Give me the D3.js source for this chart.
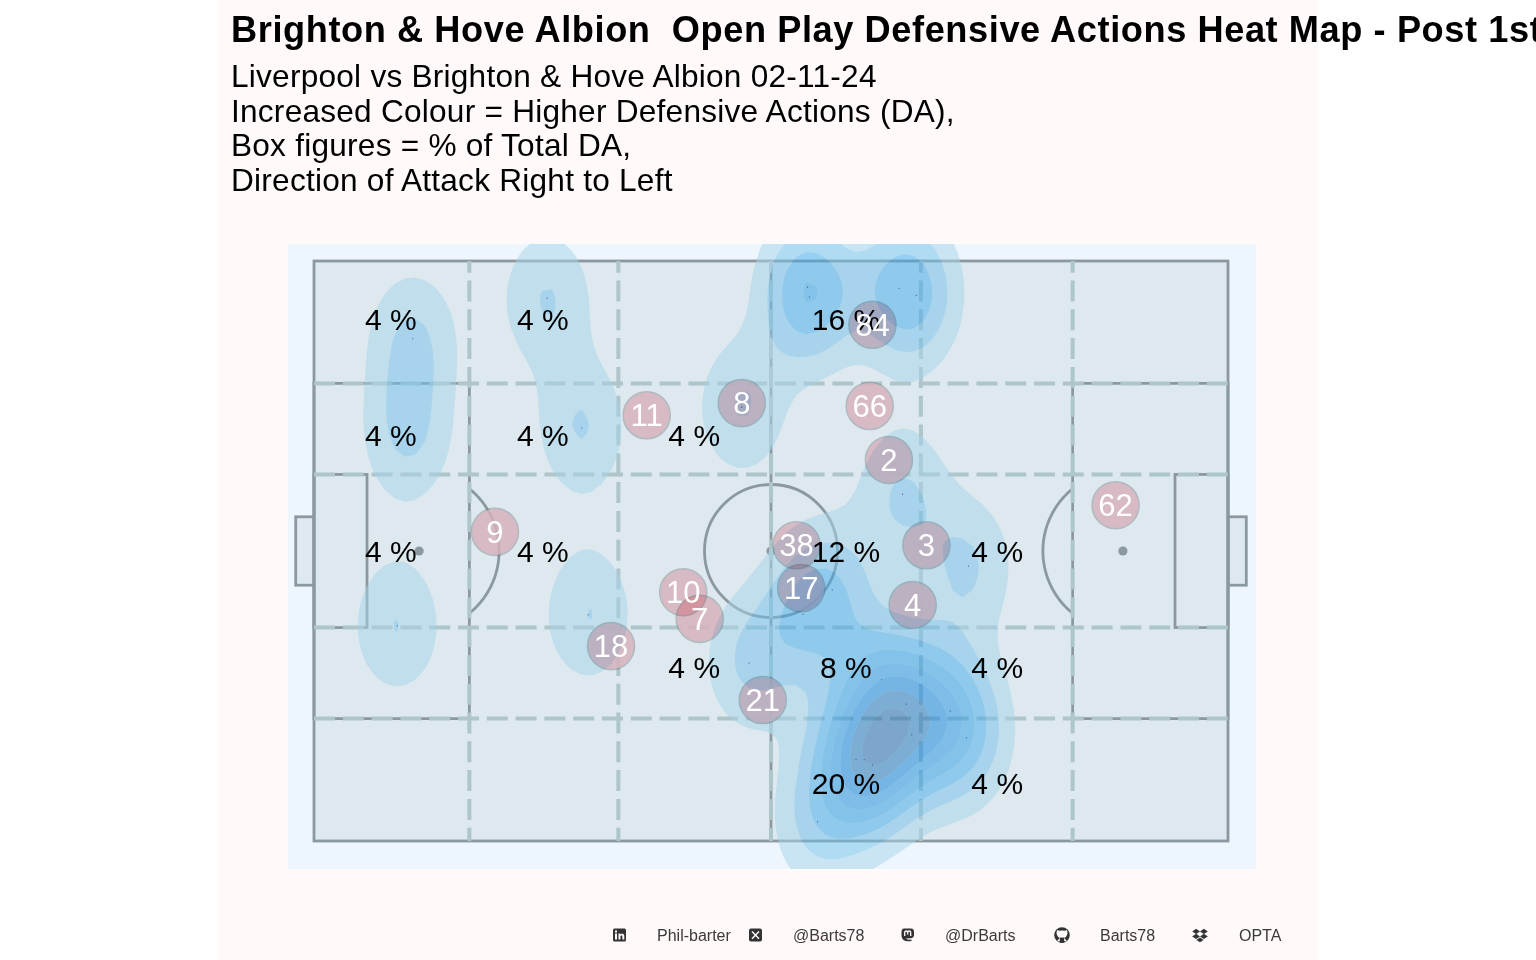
<!DOCTYPE html>
<html><head><meta charset="utf-8">
<script src="https://cdn.jsdelivr.net/npm/d3@7/dist/d3.min.js"></script>
<style>
html,body{margin:0;padding:0;background:#fff;overflow:hidden}
svg{display:block}
text{font-family:"Liberation Sans",Arial,sans-serif}
</style></head><body>
<svg id="chart" width="1536" height="960"></svg>
<script>
// ---- data (Opta pitch coordinates 0-100) ----
const titleText = "Brighton & Hove Albion  Open Play Defensive Actions Heat Map - Post 1st";
const subtitleLines = ["Liverpool vs Brighton & Hove Albion 02-11-24","Increased Colour = Higher Defensive Actions (DA),","Box figures = % of Total DA,","Direction of Attack Right to Left"];
const actionX = [10.8,10.2,25.5,29.3,9.1,30.0,54.0,54.2,64.0,65.9,46.8,64.4,71.6,56.7,53.5,47.6,62.1,64.8,69.6,71.4,65.4,59.3,60.2,61.1,55.1];
const actionY = [86.6,69.8,93.6,71.2,37.1,39.0,95.5,93.8,95.3,94.1,74.8,59.8,47.4,43.3,39.1,30.7,27.8,23.6,22.4,17.8,18.3,14.1,14.0,13.1,3.3];
const playerNums = ["84","8","11","66","2","62","9","38","3","17","10","4","7","18","21"];
const playerX = [61.1,46.8,36.4,60.8,62.9,87.7,19.8,52.8,67.0,53.3,40.4,65.5,42.2,32.5,49.1];
const playerY = [89.0,75.5,73.4,75.0,65.7,57.9,53.3,51.0,51.0,43.6,42.9,40.7,38.3,33.6,24.3];
const zoneCols = [8.4,25.05,41.6,58.2,74.75];
const zoneRows = [90,70,50,30,10];
const zonePct = [[4,4,null,16,null],[4,4,4,null,null],[4,4,null,12,4],[null,null,4,8,4],[null,null,null,20,4]];
const dashX = [17,33.3,50,66.4,83];
const dashY = [21.1,36.8,63.2,78.9];
const footerLabels = ["Phil-barter","@Barts78","@DrBarts","Barts78","OPTA"];
const bandColours = ["#a5d4e9","#71c0e9","#41aae9","#299ce4","#1f92e1","#0b82db","#1b72b8","#1b64a8","#1b5c9c"];

// ---- scales ----
const svg = d3.select("#chart");
const x = d3.scaleLinear().domain([0,100]).range([314,1228]);
const y = d3.scaleLinear().domain([0,100]).range([841,261]);
const panel = {x0:x.invert(288),x1:x.invert(1256),y0:y.invert(869),y1:y.invert(244)};
const ln = "#8b999f", dash = "#aec5ca";

svg.append("rect").attr("x",218).attr("y",0).attr("width",1100).attr("height",960).attr("fill","#fff9f9");
svg.append("rect").attr("x",288).attr("y",244).attr("width",968).attr("height",625).attr("fill","#edf6fc");
svg.append("clipPath").attr("id","panelClip").append("rect").attr("x",288).attr("y",244).attr("width",968).attr("height",625);

// ---- pitch ----
const pitch = svg.append("g").attr("fill","none").attr("stroke",ln).attr("stroke-width",2.8);
function box(x0,x1,y0,y1,fill){
  pitch.append("rect").attr("x",x(x0)).attr("y",y(y1)).attr("width",x(x1)-x(x0)).attr("height",y(y0)-y(y1)).attr("fill",fill||"none");
}
box(-2,0,44.1,55.9,"#dde8ef"); box(100,102,44.1,55.9,"#dde8ef");
box(0,100,0,100,"#dde8ef");
box(0,17,21.1,78.9); box(83,100,21.1,78.9);
box(0,5.8,36.8,63.2); box(94.2,100,36.8,63.2);
pitch.append("line").attr("x1",x(50)).attr("x2",x(50)).attr("y1",y(0)).attr("y2",y(100));
[[11.5,1],[88.5,-1]].forEach(([sx,dir])=>{
  const a = Math.acos(50/80);
  const pts = d3.range(-a,a+0.001,0.02).map(t=>[x(sx)+dir*80*Math.cos(t),y(50)+80*Math.sin(t)]);
  pitch.append("path").attr("d",d3.line()(pts));
  pitch.append("circle").attr("cx",x(sx)).attr("cy",y(50)).attr("r",4.6).attr("fill",ln).attr("stroke","none");
});
pitch.append("circle").attr("cx",x(50)).attr("cy",y(50)).attr("r",66.5);
pitch.append("circle").attr("cx",x(50)).attr("cy",y(50)).attr("r",4.6).attr("fill",ln).attr("stroke","none");

const dashes = svg.append("g").attr("stroke",dash).attr("stroke-width",4).attr("stroke-dasharray","21 7.8");
dashX.forEach(v=>dashes.append("line").attr("x1",x(v)).attr("x2",x(v)).attr("y1",y(100)).attr("y2",y(0)).attr("stroke-dashoffset",9.3));
dashY.forEach(v=>dashes.append("line").attr("x1",x(0)).attr("x2",x(100)).attr("y1",y(v)).attr("y2",y(v)));

// ---- player circles: lower layer masks the lines ----
const cx=(d,i)=>x(playerX[i]), cy=(d,i)=>y(playerY[i]);
svg.append("g").selectAll("circle").data(playerNums).join("circle")
  .attr("cx",cx).attr("cy",cy).attr("r",23.5).attr("fill","#dde8ef").attr("fill-opacity",0.8);

// ---- kernel density on a 100x100 grid, contoured with d3.contours ----
const nx=100, ny=100, sigX=3.62, sigY=8.8;
const gridX=i=>panel.x0+i*(panel.x1-panel.x0)/(nx-1), gridY=j=>panel.y0+j*(panel.y1-panel.y0)/(ny-1);
const values=new Float64Array(nx*ny);
for(let j=0;j<ny;j++)for(let i=0;i<nx;i++){
  let s=0;
  for(let k=0;k<actionX.length;k++){
    const dx=(gridX(i)-actionX[k])/sigX, dy=(gridY(j)-actionY[k])/sigY;
    s+=Math.exp(-0.5*(dx*dx+dy*dy));
  }
  values[i+j*nx]=s;
}
const thresholds=bandColours.map((c,i)=>0.495*(i+1));
const contours=d3.contours().size([nx,ny]).thresholds(thresholds)(values);
const geo=d3.geoPath(d3.geoTransform({point(px,py){this.stream.point(x(gridX(px-0.5)),y(gridY(py-0.5)));}}));
const heat=svg.append("g").attr("clip-path","url(#panelClip)");
heat.selectAll("path").data(contours).join("path")
  .attr("d",(c,i)=>geo(c)+(contours[i+1]?(geo(contours[i+1])||""):""))
  .attr("fill-rule","evenodd").attr("fill",(c,i)=>bandColours[i]).attr("fill-opacity",0.5);
heat.append("g").selectAll("circle").data(actionX).join("circle")
  .attr("cx",d=>x(d)).attr("cy",(d,i)=>y(actionY[i])).attr("r",0.55).attr("fill","#1d4a70");

// ---- player circles: upper tint layer ----
svg.append("g").style("mix-blend-mode","multiply").selectAll("circle").data(playerNums).join("circle")
  .attr("cx",cx).attr("cy",cy).attr("r",23.5)
  .attr("fill","rgb(249,204,209)").attr("stroke","rgb(205,205,205)").attr("stroke-width",1.6)
  .style("mix-blend-mode","multiply");

// ---- zone percentages ----
const pct=svg.append("g").attr("font-size",30).attr("text-anchor","middle").attr("fill","#000");
zoneRows.forEach((r,ri)=>zoneCols.forEach((c,ci)=>{
  const v=zonePct[ri][ci];
  if(v!==null)pct.append("text").attr("x",x(c)).attr("y",y(r)+11).text(v+" %");
}));
svg.append("g").attr("font-size",31).attr("text-anchor","middle").attr("fill","#fff")
  .selectAll("text").data(playerNums).join("text")
  .attr("x",cx).attr("y",(d,i)=>y(playerY[i])+11).text(d=>d);

// ---- titles ----
svg.append("text").attr("x",231).attr("y",42).attr("font-size",36.2).attr("letter-spacing",0.58).attr("font-weight","bold").attr("fill","#000")
  .attr("xml:space","preserve").style("white-space","pre").text(titleText);
svg.append("g").attr("font-size",31.6).attr("letter-spacing",0.24).attr("fill","#000").selectAll("text").data(subtitleLines).join("text")
  .attr("x",231).attr("y",(d,i)=>87+i*34.7).text(d=>d);

// ---- footer ----
const footerX=[657,793,945,1100,1239];
svg.append("g").attr("font-size",16).attr("fill","#3a3a3a").selectAll("text").data(footerLabels).join("text")
  .attr("x",(d,i)=>footerX[i]).attr("y",940.5).text(d=>d);
const ic="#333", bg="#fff9f9";
// linkedin
const li=svg.append("g").attr("transform","translate(613,928.5)");
li.append("rect").attr("width",13).attr("height",13).attr("rx",1.5).attr("fill",ic);
li.append("rect").attr("x",2).attr("y",5).attr("width",2).attr("height",6).attr("fill",bg);
li.append("rect").attr("x",2).attr("y",2).attr("width",2).attr("height",2).attr("fill",bg);
li.append("path").attr("d","M5.5 5H7.4V6C8 5 11.3 4.3 11.3 7.5V11H9.4V8C9.4 6.5 7.4 6.5 7.4 8V11H5.5Z").attr("fill",bg);
// x
const xi=svg.append("g").attr("transform","translate(749,928.5)");
xi.append("rect").attr("width",13).attr("height",13).attr("rx",2).attr("fill",ic);
xi.append("path").attr("d","M3 3L10 10.2M10 3L3 10.2").attr("stroke",bg).attr("stroke-width",1.4).attr("fill","none");
// mastodon
const ma=svg.append("g").attr("transform","translate(901,928)");
ma.append("path").attr("d","M3 0.5H10Q13 0.5 13 4V7Q13 10 9.5 10.3L5 10.5Q6 12 10.5 11.6V13Q1 14.5 0.5 8V4Q0.5 0.5 3 0.5Z").attr("fill",ic);
ma.append("path").attr("d","M3.7 8V4.6Q3.7 3 5.2 3T6.7 4.6V6.5M6.7 6.5V4.6Q6.7 3 8.2 3T9.7 4.6V8").attr("stroke",bg).attr("stroke-width",1.3).attr("fill","none");
// github
const gh=svg.append("g").attr("transform","translate(1062,935)");
gh.append("circle").attr("r",7.8).attr("fill",ic);
gh.append("path").attr("d","M-5 -5L-2.8 -4.2Q0 -5 2.8 -4.2L5 -5Q5.8 -2 5.2 -0.4Q4.6 2.2 2.2 2.8L5 6.2L-5 6.2L-2.2 2.8Q-4.6 2.2 -5.2 -0.4Q-5.8 -2 -5 -5Z").attr("fill",bg);
gh.append("rect").attr("x",-2.2).attr("y",2.6).attr("width",4.4).attr("height",5.2).attr("fill",ic);
// dropbox
const db=svg.append("g").attr("transform","translate(1200,935)").attr("fill",ic);
[[-3.9,-3.6],[3.9,-3.6],[-3.9,1.4],[3.9,1.4]].forEach(([a,b])=>db.append("path").attr("d",`M${a} ${b-2.7}L${a+3.9} ${b}L${a} ${b+2.5}L${a-3.9} ${b}Z`));
db.append("path").attr("d","M0 2.6L3.6 5L0 7.2L-3.6 5Z");
</script>
</body></html>
